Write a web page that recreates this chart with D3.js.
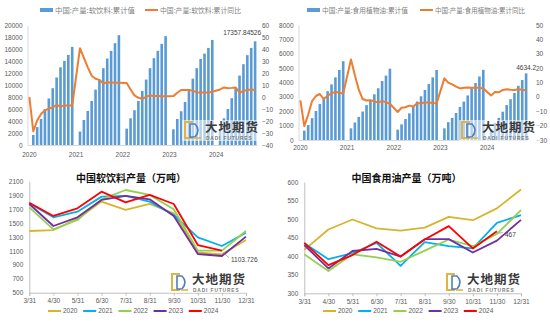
<!DOCTYPE html>
<html>
<head>
<meta charset="utf-8">
<script src="https://cdn.jsdelivr.net/npm/d3@7"></script>
<style>
  body { margin: 0; background: #fff; }
  svg { display: block; }
  text { font-family: "Liberation Sans", Arial, sans-serif; fill: #595959; }
  .cjk { font-family: "Noto Sans CJK SC", sans-serif; }
</style>
</head>
<body>
<svg id="chart" width="550" height="322"></svg>
<script>
// ---- DATA ----
const years = [2020, 2021, 2022, 2023, 2024];
const monthLabels = ["3/31", "4/30", "5/31", "6/30", "7/31", "8/31", "9/30", "10/31", "11/30", "12/31"];
const seriesColors = ["#D6B52E", "#00B0F0", "#92D050", "#7030A0", "#FF0000"];

// 软饮料 累计值 (万吨), Jan to Dec, null = no data
const softCum2020 = [null, 1680, 3000, 4360, 6000, 7800, 9500, 11300, 13000, 14080, 15080, 16420];
const softCum2021 = [null, 2250, 4190, 5700, 7370, 9270, 10950, 12850, 14470, 15750, 17040, 18380];
const softCum2022 = [null, 2740, 4470, 5820, 7380, 9050, 10950, 12860, 14530, 15760, 16930, 18220];
const softCum2023 = [null, 2630, 4360, 5650, 7200, 9200, 11100, 12860, 14400, 15300, 16250, 17580];
const softCum2024 = [null, 2630, 4470, 6030, 7830, 9550, 11620, 13530, 15040, 16250, 17357.84526];
// 软饮料 累计同比 (%)
const softYoY2020 = [0, -28.5, -19.5, -14, -11, -9.5, -8.5, -6.5, -7.8, -7, -7, -7];
const softYoY2021 = [null, 41, 33, 25, 18, 15.5, 14.5, 11.5, 12.5, 12.2, 12, 12];
const softYoY2022 = [null, 11.8, 6.5, 1.5, -0.5, -1.3, 0.3, 1.5, 1, 1, 0.8, 0.8];
const softYoY2023 = [null, 0.9, 3.7, 6, 6, 6, 5.5, 4, 4, 4, 4, 4.5];
const softYoY2024 = [null, 6.5, 8.2, 7.5, 7.8, 8.2, 3.7, 5.3, 6, 6.4, 6];

// 食用植物油 累计值 (万吨)
const oilCum2020 = [null, 650, 1040, 1520, 2020, 2500, 2860, 3400, 3870, 4360, 4870, 5480];
const oilCum2021 = [null, 810, 1220, 1610, 1980, 2430, 2790, 3180, 3600, 4100, 4480, 4960];
const oilCum2022 = [null, 720, 1090, 1460, 1850, 2360, 2680, 3040, 3480, 3900, 4360, 4870];
const oilCum2023 = [null, 810, 1240, 1540, 1880, 2300, 2670, 3100, 3600, 3960, 4420, 4880];
const oilCum2024 = [null, 760, 1200, 1540, 1970, 2430, 2840, 3270, 3770, 4170, 4634.2];
// 食用植物油 累计同比 (%)
const oilYoY2020 = [-2.5, -20.3, -12.5, -2.9, 0.6, 2, -1.5, 0.7, 2.5, 3.5, 2.9, 2.3];
const oilYoY2021 = [null, 26, 15, 5, -1.5, -2.5, -2.3, -3, -4, -2.8, -3.8, -4.8];
const oilYoY2022 = [null, -10.5, -7.6, -7.2, -6.1, -6.7, -4.5, -4.4, -3.9, -3.9, -4.2, -4.5];
const oilYoY2023 = [null, 12.9, 9.9, 8.7, 7.1, 5.9, 6.3, 6.6, 6.4, 6.4, 6.4, 5.9];
const oilYoY2024 = [null, 1, 3.4, 3.2, 4.8, 5.3, 5, 4.8, 5.3, 4.9, 4.6];

// 中国软饮料产量 (万吨), 3/31 .. 12/31
const softMonthly2020 = [1386, 1400, 1560, 1808, 1690, 1774, 1640, 1080, 1051, 1257];
const softMonthly2021 = [1784, 1583, 1664, 1880, 1890, 1808, 1616, 1295, 1171, 1362];
const softMonthly2022 = [1726, 1410, 1544, 1841, 1975, 1904, 1698, 1104, 1104, 1386];
const softMonthly2023 = [1774, 1458, 1583, 1832, 1890, 1841, 1602, 1056, 1027, 1305];
const softMonthly2024 = [1793, 1602, 1712, 1951, 1798, 1904, 1774, 1185, 1103.726];

// 中国食用油产量 (万吨)
const oilMonthly2020 = [417, 472, 499, 475, 469, 477, 506, 497, 529, 580];
const oilMonthly2021 = [435, 392, 408, 436, 374, 438, 427, 421, 490, 511];
const oilMonthly2022 = [405, 360, 405, 397, 385, 415, 445, 427, 460, 524];
const oilMonthly2023 = [430, 367, 414, 420, 399, 446, 446, 410, 442, 498];
const oilMonthly2024 = [436, 376, 403, 439, 399, 445, 481, 421, 467];

const svg = d3.select("#chart");
const fmt = d3.format("d");

// flatten yearly arrays into a month list
function monthly(arrs) {
    let out = [];
    arrs.forEach(function (arr, yi) {
        arr.forEach(function (v, m) {
            out.push({ key: years[yi] + "-" + (m + 1), year: years[yi], month: m, v: v });
        });
    });
    return out;
}

// ---- LOGO (watermark) ----
function drawLogo(x, y) {
    let g = svg.append("g").attr("transform", "translate(" + x + "," + y + ")");
    g.append("rect").attr("x", -2).attr("y", -1).attr("width", 80).attr("height", 21)
        .attr("fill", "#fff").attr("opacity", 0.55);
    g.append("path").attr("d", "M9,1 H1 V17 H9").attr("fill", "none")
        .attr("stroke", "#E0B443").attr("stroke-width", 2);
    g.append("path").attr("d", "M6,3 H11 Q17,9 11,16 H6 Z").attr("fill", "none")
        .attr("stroke", "#4F7FBF").attr("stroke-width", 1.6);
    g.append("path").attr("d", "M10,17 H17").attr("stroke", "#E0B443").attr("stroke-width", 1.6);
    g.append("text").attr("class", "cjk").attr("x", 21).attr("y", 10.5)
        .attr("font-size", 12.5).attr("font-weight", "bold").style("fill", "#3a3a3a")
        .attr("letter-spacing", 1).text("大地期货");
    g.append("text").attr("x", 22).attr("y", 19).attr("font-size", 4.8)
        .attr("font-weight", "bold").style("fill", "#7a7a7a").attr("letter-spacing", 0.9)
        .text("DADI FUTURES");
}

// ---- TOP PANELS: bars + yoy line ----
function barLineChart(opt) {
    let cum = monthly(opt.cum);
    let yoy = monthly(opt.yoy);
    let g = svg.append("g");

    let x = d3.scaleBand().domain(cum.map(d => d.key)).range([opt.x0, opt.x1]).paddingInner(0.33).paddingOuter(0.15);
    let yL = d3.scaleLinear().domain(opt.leftDomain).range([opt.y1, opt.y0]);
    let yR = d3.scaleLinear().domain(opt.rightDomain).range([opt.y1, opt.y0]);

    //left axis
    let axL = g.append("g").attr("transform", "translate(" + opt.x0 + ",0)")
        .call(d3.axisLeft(yL).tickValues(d3.range(opt.leftDomain[0], opt.leftDomain[1] + 1, opt.leftStep)).tickFormat(fmt).tickSize(0).tickPadding(5));
    axL.select(".domain").attr("stroke", "#D9D9D9");
    axL.selectAll("text").attr("font-size", 6.5).style("fill", "#595959").attr("font-family", null);

    //right axis
    let axR = g.append("g").attr("transform", "translate(" + opt.xR + ",0)")
        .call(d3.axisRight(yR).tickValues(d3.range(opt.rightDomain[0], opt.rightDomain[1] + 1, 10)).tickSize(0).tickPadding(0));
    axR.select(".domain").remove();
    axR.selectAll("text").attr("font-size", 6.5).style("fill", "#595959").attr("font-family", null);

    //bottom axis: year labels on january
    let axB = g.append("g").attr("transform", "translate(0," + opt.y1 + ")")
        .call(d3.axisBottom(x).tickValues(years.map(y => y + "-1")).tickFormat(k => k.split("-")[0]).tickSize(0).tickPadding(opt.xPad));
    axB.select(".domain").attr("stroke", "#D9D9D9");
    axB.selectAll("text").attr("font-size", 6.5).style("fill", "#595959").attr("font-family", null);

    //bars
    g.selectAll("rect.bar").data(cum.filter(d => d.v != null)).enter().append("rect")
        .attr("class", "bar")
        .attr("x", d => x(d.key))
        .attr("width", x.bandwidth())
        .attr("y", d => yL(d.v))
        .attr("height", d => yL(0) - yL(d.v))
        .attr("fill", "#5B9BD5");

    //line (gaps are bridged)
    let line = d3.line().x(d => x(d.key) + x.bandwidth() / 2).y(d => yR(d.v));
    g.append("path").datum(yoy.filter(d => d.v != null))
        .attr("d", line).attr("fill", "none").attr("stroke", "#ED7D31")
        .attr("stroke-width", 2).attr("stroke-linejoin", "round");

    //last value label
    let last = cum[cum.length - 1];
    g.append("text").attr("x", x(last.key) + x.bandwidth() / 2 + opt.lblDx).attr("y", yL(last.v) - opt.lblDy)
        .attr("text-anchor", opt.lblAnchor).attr("font-size", 6.5).style("fill", "#404040").text(last.v);

    //legend
    let lg = g.append("g").attr("transform", "translate(" + opt.legX + ",10)");
    lg.append("rect").attr("x", 0).attr("y", -2).attr("width", 13).attr("height", 4).attr("fill", "#5B9BD5");
    lg.append("text").attr("class", "cjk").attr("x", 15).attr("y", 2.6).attr("font-size", 7.4)
        .attr("textLength", opt.legLen[0]).attr("lengthAdjust", "spacingAndGlyphs")
        .style("fill", "#7f7f7f").text(opt.names[0]);
    lg.append("line").attr("x1", opt.legGap).attr("x2", opt.legGap + 13).attr("y1", 0).attr("y2", 0)
        .attr("stroke", "#ED7D31").attr("stroke-width", 2);
    lg.append("text").attr("class", "cjk").attr("x", opt.legGap + 15).attr("y", 2.6).attr("font-size", 7.4)
        .attr("textLength", opt.legLen[1]).attr("lengthAdjust", "spacingAndGlyphs")
        .style("fill", "#7f7f7f").text(opt.names[1]);
}

barLineChart({
    cum: [softCum2020, softCum2021, softCum2022, softCum2023, softCum2024],
    yoy: [softYoY2020, softYoY2021, softYoY2022, softYoY2023, softYoY2024],
    x0: 27.5, x1: 257, y0: 25.5, y1: 145, xR: 262,
    leftDomain: [0, 20000], leftStep: 2000, rightDomain: [-40, 60],
    xPad: 7, lblDx: 6, lblDy: 6, lblAnchor: "end",
    legX: 40, legGap: 105, legLen: [80, 81],
    names: ["中国:产量:软饮料:累计值", "中国:产量:软饮料:累计同比"]
});

barLineChart({
    cum: [oilCum2020, oilCum2021, oilCum2022, oilCum2023, oilCum2024],
    yoy: [oilYoY2020, oilYoY2021, oilYoY2022, oilYoY2023, oilYoY2024],
    x0: 298.5, x1: 528, y0: 25, y1: 140, xR: 536,
    leftDomain: [0, 8000], leftStep: 1000, rightDomain: [-30, 50],
    xPad: 5.5, lblDx: 0, lblDy: 3, lblAnchor: "middle",
    legX: 307, legGap: 113, legLen: [86, 90],
    names: ["中国:产量:食用植物油:累计值", "中国:产量:食用植物油:累计同比"]
});

// ---- BOTTOM PANELS: seasonal lines ----
function seasonalChart(opt) {
    let g = svg.append("g");
    let x = d3.scalePoint().domain(monthLabels).range([opt.x0, opt.x1]);
    let y = d3.scaleLinear().domain(opt.domain).range([opt.y1, opt.y0]);

    let axL = g.append("g").attr("transform", "translate(" + opt.x0 + ",0)")
        .call(d3.axisLeft(y).tickValues(d3.range(opt.domain[0], opt.domain[1] + 1, opt.step)).tickFormat(fmt).tickSize(0).tickPadding(6));
    axL.select(".domain").attr("stroke", "#BFBFBF");
    axL.selectAll("text").attr("font-size", 6.5).style("fill", "#595959").attr("font-family", null);

    let axB = g.append("g").attr("transform", "translate(0," + opt.y1 + ")")
        .call(d3.axisBottom(x).tickSize(3).tickPadding(3));
    axB.select(".domain").attr("stroke", "#BFBFBF");
    axB.selectAll("line").attr("stroke", "#BFBFBF");
    axB.selectAll("text").attr("font-size", 6.5).style("fill", "#595959").attr("font-family", null);

    g.append("text").attr("class", "cjk").attr("x", opt.titleX).attr("y", 181.5)
        .attr("text-anchor", "middle").attr("font-size", 10).attr("font-weight", "bold")
        .style("fill", "#111").text(opt.title);

    let line = d3.line().x((d, i) => x(monthLabels[i])).y(d => y(d));
    opt.series.forEach(function (s, i) {
        g.append("path").datum(s).attr("d", line).attr("fill", "none")
            .attr("stroke", seriesColors[i]).attr("stroke-width", 1.8).attr("stroke-linejoin", "round");
    });

    //label on last point of 2024
    let s = opt.series[4];
    let px = x(monthLabels[s.length - 1]), py = y(s[s.length - 1]);
    g.append("line").attr("x1", px + 1.5).attr("y1", py + 2).attr("x2", px + opt.lbl[0] - 2).attr("y2", py + opt.lbl[1] - 2)
        .attr("stroke", "#7f7f7f").attr("stroke-width", 0.6);
    g.append("text").attr("x", px + opt.lbl[0]).attr("y", py + opt.lbl[1] + 2.2)
        .attr("font-size", 6.5).style("fill", "#404040").text(s[s.length - 1]);

    //legend
    years.forEach(function (yr, i) {
        let lx = opt.legX + i * 35.2;
        g.append("line").attr("x1", lx).attr("x2", lx + 13).attr("y1", 311).attr("y2", 311)
            .attr("stroke", seriesColors[i]).attr("stroke-width", 2);
        g.append("text").attr("x", lx + 15).attr("y", 313.3).attr("font-size", 6.5).text(yr);
    });
}

seasonalChart({
    series: [softMonthly2020, softMonthly2021, softMonthly2022, softMonthly2023, softMonthly2024],
    x0: 29.3, x1: 246, y0: 181.3, y1: 292.7, domain: [500, 2100], step: 200,
    title: "中国软饮料产量（万吨）", titleX: 131, legX: 48, lbl: [9, 9]
});

seasonalChart({
    series: [oilMonthly2020, oilMonthly2021, oilMonthly2022, oilMonthly2023, oilMonthly2024],
    x0: 304.3, x1: 521, y0: 182, y1: 293.3, domain: [300, 600], step: 50,
    title: "中国食用油产量（万吨）", titleX: 406.5, legX: 323, lbl: [8, 3]
});

drawLogo(184, 121);
drawLogo(461, 121);
drawLogo(171, 273);
drawLogo(446, 273);
</script>
</body>
</html>
